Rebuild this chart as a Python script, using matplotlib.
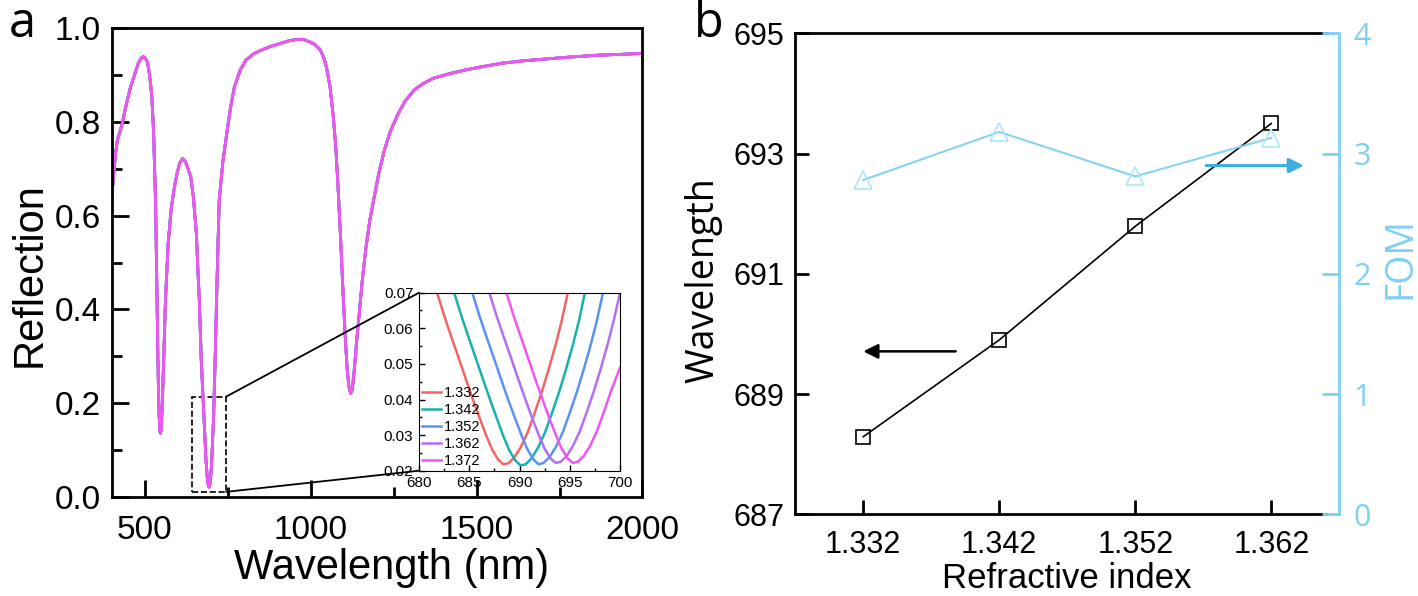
import matplotlib
matplotlib.use("Agg")
import matplotlib.pyplot as plt
from matplotlib.patches import Rectangle, ConnectionPatch
from matplotlib.ticker import MultipleLocator

plt.rcParams["font.family"] = "Liberation Sans"

# --- panel a: reflection spectrum ---
wl = [400, 404, 407, 412, 417, 425, 432, 440, 447, 457, 467, 480, 490, 495, 501, 507,
      512, 517, 521, 524, 527, 529, 532, 536, 539, 542, 545, 547, 549, 552, 556, 562,
      570, 580, 590, 597, 605, 614, 622, 630, 638, 646, 655, 660, 664, 670, 678, 684,
      688, 692, 694, 697, 701, 707, 712, 716, 720, 724, 735, 747, 758, 770, 787, 805,
      828, 851, 880, 908, 935, 960, 980, 995, 1012, 1029, 1040, 1047, 1058, 1068, 1076,
      1083, 1090, 1097, 1104, 1110, 1115, 1120, 1125, 1131, 1138, 1146, 1155, 1166,
      1178, 1190, 1205, 1222, 1240, 1262, 1285, 1312, 1340, 1370, 1420, 1462, 1520,
      1577, 1640, 1692, 1780, 1865, 1940, 2000]
refl = [0.640, 0.672, 0.697, 0.735, 0.761, 0.780, 0.797, 0.825, 0.846, 0.875, 0.896,
        0.925, 0.937, 0.939, 0.936, 0.928, 0.910, 0.882, 0.850, 0.811, 0.760, 0.704,
        0.633, 0.450, 0.300, 0.190, 0.140, 0.136, 0.145, 0.190, 0.280, 0.420, 0.540,
        0.620, 0.665, 0.690, 0.712, 0.722, 0.715, 0.700, 0.683, 0.640, 0.563, 0.480,
        0.420, 0.290, 0.171, 0.080, 0.040, 0.022, 0.021, 0.030, 0.070, 0.171, 0.300,
        0.420, 0.530, 0.633, 0.715, 0.776, 0.830, 0.875, 0.910, 0.932, 0.945, 0.953,
        0.961, 0.967, 0.973, 0.976, 0.975, 0.971, 0.965, 0.953, 0.935, 0.917, 0.875,
        0.810, 0.740, 0.650, 0.550, 0.440, 0.340, 0.270, 0.235, 0.221, 0.228, 0.270,
        0.330, 0.390, 0.460, 0.530, 0.590, 0.635, 0.690, 0.740, 0.780, 0.815, 0.845,
        0.868, 0.882, 0.893, 0.903, 0.910, 0.918, 0.925, 0.930, 0.933, 0.938, 0.942,
        0.944, 0.946]

labels = ["1.332", "1.342", "1.352", "1.362", "1.372"]
colors = ["#f26565", "#19b0b0", "#5b93f0", "#b46ef2", "#f055f0"]

# --- inset: zoom of the resonance dip ---
wl_1332 = [681.8, 682.5, 683.2, 683.9, 684.6, 685.3, 686.0, 686.7, 687.3, 687.9, 688.4,
           688.9, 689.5, 690.1, 690.8, 691.5, 692.2, 692.9, 693.6, 694.2, 694.8]
r_1332 = [0.0700, 0.0636, 0.0577, 0.0520, 0.0462, 0.0405, 0.0350, 0.0298, 0.0258, 0.0230,
          0.0218, 0.0221, 0.0238, 0.0265, 0.0307, 0.0362, 0.0420, 0.0485, 0.0555, 0.0622,
          0.0700]
wl_1342 = [683.5, 684.2, 684.9, 685.6, 686.3, 687.0, 687.7, 688.4, 689.0, 689.6, 690.1,
           690.6, 691.2, 691.8, 692.5, 693.2, 693.9, 694.6, 695.3, 695.9, 696.5]
r_1342 = [0.0700, 0.0636, 0.0577, 0.0520, 0.0462, 0.0405, 0.0350, 0.0296, 0.0256, 0.0228,
          0.0215, 0.0218, 0.0235, 0.0263, 0.0305, 0.0360, 0.0418, 0.0483, 0.0553, 0.0620,
          0.0700]
wl_1352 = [685.3, 686.0, 686.7, 687.4, 688.1, 688.8, 689.5, 690.2, 690.8, 691.4, 691.9,
           692.4, 693.0, 693.6, 694.3, 695.0, 695.7, 696.4, 697.1, 697.7, 698.3]
r_1352 = [0.0700, 0.0636, 0.0577, 0.0520, 0.0462, 0.0405, 0.0351, 0.0299, 0.0259, 0.0231,
          0.0218, 0.0222, 0.0239, 0.0266, 0.0308, 0.0363, 0.0421, 0.0486, 0.0556, 0.0623,
          0.0700]
wl_1362 = [687.0, 687.7, 688.4, 689.1, 689.8, 690.5, 691.2, 691.9, 692.5, 693.1, 693.6,
           694.1, 694.7, 695.3, 696.0, 696.7, 697.4, 698.1, 698.8, 699.4, 700.0]
r_1362 = [0.0700, 0.0636, 0.0578, 0.0521, 0.0463, 0.0407, 0.0352, 0.0301, 0.0261, 0.0234,
          0.0222, 0.0225, 0.0242, 0.0269, 0.0311, 0.0366, 0.0424, 0.0489, 0.0559, 0.0626,
          0.0700]
wl_1372 = [688.7, 689.4, 690.1, 690.8, 691.5, 692.2, 692.9, 693.6, 694.2, 694.8, 695.3,
           695.8, 696.4, 697.0, 697.7, 698.4, 699.1, 700.0]
r_1372 = [0.0700, 0.0636, 0.0578, 0.0521, 0.0463, 0.0407, 0.0352, 0.0301, 0.0261, 0.0234,
          0.0222, 0.0225, 0.0242, 0.0269, 0.0311, 0.0366, 0.0424, 0.0490]

inset_wl = [wl_1332, wl_1342, wl_1352, wl_1362, wl_1372]
inset_r = [r_1332, r_1342, r_1352, r_1362, r_1372]

# --- panel b: sensing ---
n_index = [1.332, 1.342, 1.352, 1.362]
res_wl = [688.29, 689.90, 691.79, 693.50]
fom = [2.78, 3.18, 2.81, 3.13]

cyan_axis = "#7fd0f5"

fig = plt.figure(figsize=(14.18, 5.96), dpi=100)

# panel a
ax = fig.add_axes([0.0788, 0.1661, 0.3743, 0.7869])
for c in colors:
    ax.plot(wl, refl, color=c, lw=2.0)
ax.set_xlim(400, 2000)
ax.set_ylim(0, 1.0)
ax.xaxis.set_major_locator(MultipleLocator(500))
ax.xaxis.set_minor_locator(MultipleLocator(250))
ax.yaxis.set_major_locator(MultipleLocator(0.2))
ax.yaxis.set_minor_locator(MultipleLocator(0.1))
ax.tick_params(which="both", direction="in", width=2, labelsize=24, pad=8)
ax.tick_params(axis="x", which="both", pad=13)
ax.tick_params(which="major", length=12)
ax.tick_params(which="minor", length=7)
for s in ax.spines.values():
    s.set_linewidth(2)

ax.add_patch(Rectangle((643, 0.011), 102, 0.203, fill=False, ls="--", lw=1.2, ec="black"))

# inset
axins = fig.add_axes([0.2955, 0.2102, 0.1418, 0.2987])
for x, y, c, lab in zip(inset_wl, inset_r, colors, labels):
    axins.plot(x, y, color=c, lw=1.8, label=lab)
axins.set_xlim(680, 700)
axins.set_ylim(0.02, 0.07)
axins.xaxis.set_major_locator(MultipleLocator(5))
axins.xaxis.set_minor_locator(MultipleLocator(2.5))
axins.yaxis.set_major_locator(MultipleLocator(0.01))
axins.yaxis.set_minor_locator(MultipleLocator(0.005))
axins.tick_params(which="both", direction="in", labelsize=11, width=1, pad=4)
axins.tick_params(which="major", length=4)
axins.tick_params(which="minor", length=2.5)
axins.legend(loc="lower left", fontsize=10.5, frameon=False, handlelength=1.3,
             handletextpad=0.2, labelspacing=0.2, borderaxespad=0.1, borderpad=0.1)

for xyA, xyB in [((745, 0.214), (0, 1)), ((745, 0.011), (0, 0))]:
    con = ConnectionPatch(xyA=xyA, coordsA=ax.transData, xyB=xyB, coordsB=axins.transAxes,
                          color="black", lw=1.3)
    fig.add_artist(con)

fig.text(0.0155, 0.938, "a", fontsize=35, family="Open Sans", ha="center", va="baseline")
fig.text(0.0212, 0.539, "Reflection", fontsize=30, rotation=90, ha="center", va="center")
fig.text(0.2764, 0.047, "Wavelength (nm)", fontsize=30, ha="center", va="center")

# panel b
bx = fig.add_axes([0.5608, 0.1371, 0.3837, 0.8070])
bx.plot(n_index, res_wl, color="black", lw=1.2, marker="s", ms=10, mfc="none",
        mec="black", mew=1.2)
bx.set_xlim(1.327, 1.367)
bx.set_ylim(687, 695)
bx.set_xticks(n_index)
bx.set_xticklabels(["1.332", "1.342", "1.352", "1.362"])
bx.set_yticks([687, 689, 691, 693, 695])
bx.tick_params(direction="in", length=10, width=2, labelsize=22, pad=8)
bx.tick_params(axis="x", pad=11)
bx.spines["right"].set_visible(False)
for k in ["left", "top", "bottom"]:
    bx.spines[k].set_linewidth(2)
bx.spines["top"].set_bounds(1.327, 1.3661)
bx.spines["bottom"].set_bounds(1.327, 1.3661)
bx.annotate("", xy=(1.3318, 689.71), xytext=(1.339, 689.71),
            arrowprops=dict(arrowstyle="-|>", color="black", lw=1.8, mutation_scale=22))

bx2 = bx.twinx()
bx2.plot(n_index, fom, color="#86d3f5", lw=1.5, marker="^", ms=13, mfc="none",
         mec="#aee6fb", mew=1.2)
bx2.set_ylim(0, 4)
bx2.set_yticks([0, 1, 2, 3, 4])
bx2.tick_params(direction="in", length=12, width=2, labelsize=22, colors=cyan_axis,
                labelfontfamily="Open Sans", pad=10)
for k in ["left", "top", "bottom"]:
    bx2.spines[k].set_visible(False)
bx2.spines["right"].set_color(cyan_axis)
bx2.spines["right"].set_linewidth(2)
bx2.annotate("", xy=(1.3646, 2.90), xytext=(1.357, 2.90),
             arrowprops=dict(arrowstyle="-|>", color="#3daee0", lw=2.2, mutation_scale=22))

fig.text(0.5, 0.938, "b", fontsize=35, family="Open Sans", ha="center", va="baseline")
fig.text(0.4958, 0.530, "Wavelength", fontsize=27, family="Open Sans", rotation=90,
         ha="center", va="center")
fig.text(0.9873, 0.567, "FOM", fontsize=27, family="Open Sans", rotation=90,
         ha="center", va="center", color=cyan_axis)
fig.text(0.7525, 0.030, "Refractive index", fontsize=25, ha="center", va="center")

fig.savefig("out.png", dpi=100)
